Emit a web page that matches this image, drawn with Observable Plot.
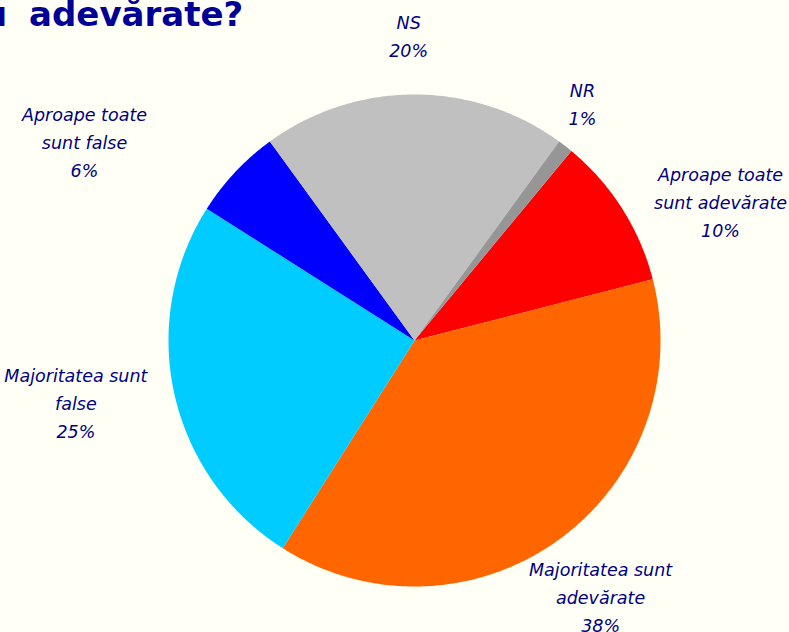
<!DOCTYPE html>
<html><head><meta charset="utf-8">
<script src="https://cdn.jsdelivr.net/npm/d3@7"></script>
<script src="https://cdn.jsdelivr.net/npm/@observablehq/plot@0.6"></script>
<style>
html,body{margin:0;padding:0;background:#FFFFF5;overflow:hidden;}
#wrap{position:relative;width:789px;height:632px;overflow:hidden;background:#FFFFF5;}
#title{position:absolute;left:-17px;top:-3px;font:bold 34px "DejaVu Sans";color:#000096;white-space:nowrap;line-height:34px;word-spacing:10px;}
#chart{position:absolute;left:0;top:0;}
</style></head><body>
<div id="wrap"><div id="chart"></div><div id="title">u adevărate?</div></div>
<script>
// data
const categories = ["Aproape toate sunt adevărate","Majoritatea sunt adevărate","Majoritatea sunt false","Aproape toate sunt false","NS","NR"];
const values = [10, 38, 25, 6, 20, 1];
const labelLines = [["Aproape toate","sunt adevărate"],["Majoritatea sunt","adevărate"],["Majoritatea sunt","false"],["Aproape toate","sunt false"],["NS"],["NR"]];
const colors = ["#FF0000","#FF6600","#00CCFF","#0000FF","#C0C0C0","#969696"];

// layout
const startFraction = 0.11;
const labelDist = [1.365, 1.29, 1.40, 1.565, 1.236, 1.176];
const labelTurn = [8.1, 0.1, 2.1, -12.2, -1.1, -2.3]; // degrees

const pie = d3.pie().sort(null).value(d => d)
  .startAngle(2 * Math.PI * startFraction)
  .endAngle(2 * Math.PI * (1 + startFraction));
const arcs = pie(values);
const pts = [];
arcs.forEach((a, i) => {
  const name = categories[i];
  pts.push({name, x: 0, y: 0});
  const n = Math.max(2, Math.ceil((a.endAngle - a.startAngle) / (Math.PI / 360)));
  for (let k = 0; k <= n; k++) {
    const t = a.startAngle + (a.endAngle - a.startAngle) * k / n;
    pts.push({name, x: Math.sin(t), y: Math.cos(t)});
  }
});
const labels = arcs.map((a, i) => {
  const mid = (a.startAngle + a.endAngle) / 2 + labelTurn[i] * Math.PI / 180;
  return {text: [...labelLines[i], values[i] + "%"].join("\n"),
          x: labelDist[i] * Math.sin(mid), y: labelDist[i] * Math.cos(mid)};
});

const chart = Plot.plot({
  width: 789, height: 632, margin: 0,
  x: {domain: [-1, 1], range: [168, 660], axis: null},
  y: {domain: [-1, 1], range: [586, 94], axis: null},
  color: {domain: categories, range: colors},
  style: {background: "transparent", overflow: "visible"},
  marks: [
    Plot.line(pts, {x: "x", y: "y", z: "name", fill: "name", stroke: "none", curve: "linear-closed"}),
    Plot.text(labels, {x: "x", y: "y", text: "text", fill: "#000080", fontSize: 17.5,
      fontStyle: "italic", fontFamily: "DejaVu Sans", lineHeight: 1.6, dy: -2.5,
      textAnchor: "middle", lineAnchor: "middle"})
  ]
});
document.getElementById("chart").appendChild(chart);
</script>
</body></html>
